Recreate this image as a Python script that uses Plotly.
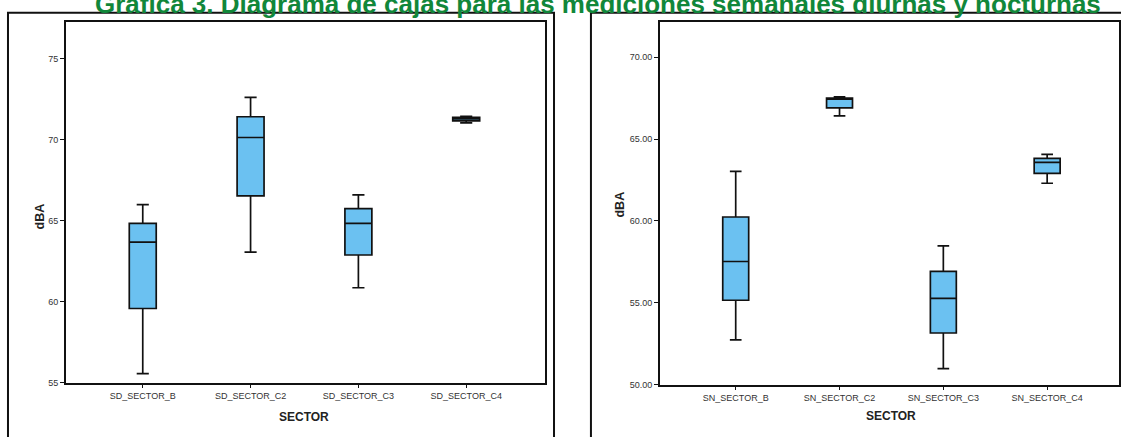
import plotly.graph_objects as go

W, H = 1121, 437

# Daytime (SD) weekly measurements, dBA
sd_sectors = ["SD_SECTOR_B", "SD_SECTOR_C2", "SD_SECTOR_C3", "SD_SECTOR_C4"]
sd_lower = [55.55, 63.05, 60.85, 71.02]
sd_q1 = [59.57, 66.52, 62.87, 71.15]
sd_median = [63.66, 70.12, 64.82, 71.27]
sd_q3 = [64.82, 71.40, 65.73, 71.36]
sd_upper = [65.98, 72.60, 66.58, 71.42]

# Night-time (SN) weekly measurements, dBA
sn_sectors = ["SN_SECTOR_B", "SN_SECTOR_C2", "SN_SECTOR_C3", "SN_SECTOR_C4"]
sn_lower = [52.73, 66.42, 50.97, 62.30]
sn_q1 = [55.15, 66.91, 53.15, 62.91]
sn_median = [57.52, 67.45, 55.27, 63.58]
sn_q3 = [60.24, 67.50, 56.91, 63.82]
sn_upper = [63.03, 67.58, 58.48, 64.06]

sd_ticks = [55, 60, 65, 70, 75]
sn_ticks = [50, 55, 60, 65, 70]

TITLE = "Gráfica 3. Diagrama de cajas para las mediciones semanales diurnas y nocturnas"
FONT = "Liberation Sans, Arial, sans-serif"
BOX_FILL = "#6bc1f1"


def px(x):
    return x / W


def py(y):
    return (H - y) / H


box_style = dict(
    fillcolor=BOX_FILL,
    line=dict(color="#111111", width=1.7),
    width=0.25,
    whiskerwidth=0.45,
    boxpoints=False,
    showlegend=False,
    hoverinfo="skip",
)

fig = go.Figure()
fig.add_trace(go.Box(
    x=sd_sectors, lowerfence=sd_lower, q1=sd_q1, median=sd_median,
    q3=sd_q3, upperfence=sd_upper, xaxis="x", yaxis="y", **box_style))
fig.add_trace(go.Box(
    x=sn_sectors, lowerfence=sn_lower, q1=sn_q1, median=sn_median,
    q3=sn_q3, upperfence=sn_upper, xaxis="x2", yaxis="y2", **box_style))

axis_common = dict(
    showline=True, mirror=True, linecolor="#111111", linewidth=1.5,
    ticks="outside", ticklen=4, tickcolor="#111111", tickwidth=1.2,
    showgrid=False, zeroline=False,
    tickfont=dict(family=FONT, size=9, color="#333333"),
)


def label(text, x, y, size, angle=0, color="#222222"):
    return dict(text=text, xref="paper", yref="paper", x=px(x), y=py(y),
                xanchor="center", yanchor="middle", textangle=angle,
                showarrow=False, font=dict(family=FONT, size=size, color=color))


fig.update_layout(
    width=W, height=H,
    margin=dict(l=0, r=0, t=0, b=0),
    paper_bgcolor="white", plot_bgcolor="white",
    xaxis=dict(domain=[px(66), px(546)], anchor="y", type="category",
               range=[-0.713, 3.731], **axis_common),
    yaxis=dict(domain=[py(387), py(22)], anchor="x",
               range=[55, 77.26], tickvals=sd_ticks, **axis_common),
    xaxis2=dict(domain=[px(661), 1.0], anchor="y2", type="category",
                range=[-0.731, 3.692], **axis_common),
    yaxis2=dict(domain=[py(389), py(22)], anchor="x2",
                range=[50, 72.17], tickvals=sn_ticks, tickformat=".2f",
                **axis_common),
    shapes=[
        dict(type="rect", xref="paper", yref="paper",
             x0=px(8), x1=px(555), y0=-0.1, y1=py(13),
             line=dict(color="#111111", width=2)),
        dict(type="rect", xref="paper", yref="paper",
             x0=px(592), x1=1.1, y0=-0.1, y1=py(13),
             line=dict(color="#111111", width=2)),
    ],
    annotations=[
        dict(text=f"<b>{TITLE}</b>", xref="paper", yref="paper",
             x=px(599), y=py(21), xanchor="center", yanchor="bottom",
             showarrow=False,
             font=dict(family=FONT, size=26, color="#11873a")),
        label("<b>dBA</b>", 41, 219, 12.5, angle=-90),
        label("<b>dBA</b>", 621, 207, 12.5, angle=-90),
        label("<b>SECTOR</b>", 305, 422, 12),
        label("<b>SECTOR</b>", 893, 421, 12),
    ],
)

fig.write_html("out.html")
